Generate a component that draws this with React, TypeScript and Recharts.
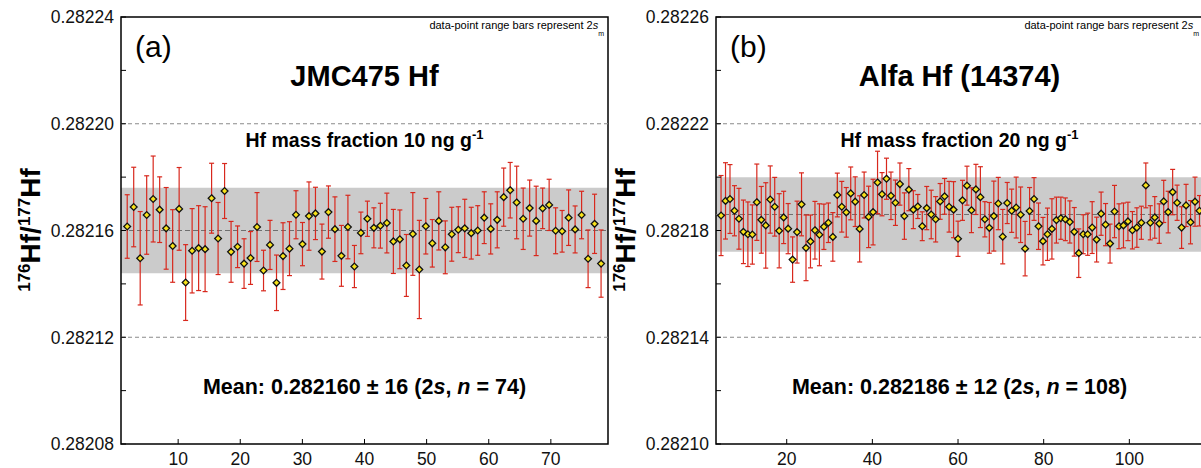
import React from "react";
import { ScatterChart, Scatter, XAxis, YAxis, ErrorBar, ReferenceArea, ReferenceLine } from "recharts";

const FONT = '"Liberation Sans", Arial, Helvetica, sans-serif';

// (a) JMC475 Hf, 10 ng/g — 176Hf/177Hf per analysis and 2s_m (x1e-6)
const ratioA = [
  0.2821615, 0.2821688, 0.2821496, 0.2821658, 0.2821718, 0.2821678, 0.2821608, 0.2821542, 0.2821681, 0.2821405,
  0.2821524, 0.2821534, 0.282153, 0.2821721, 0.282157, 0.2821748, 0.282152, 0.2821539, 0.2821476, 0.2821497,
  0.2821613, 0.282145, 0.2821546, 0.2821404, 0.2821504, 0.2821532, 0.2821659, 0.2821549, 0.2821654, 0.2821664,
  0.2821521, 0.2821669, 0.2821605, 0.2821505, 0.2821613, 0.2821465, 0.2821591, 0.2821644, 0.282161, 0.2821618,
  0.2821628, 0.2821559, 0.2821567, 0.2821469, 0.2821587, 0.2821454, 0.2821616, 0.2821552, 0.2821636, 0.2821537,
  0.2821586, 0.2821603, 0.2821608, 0.282159, 0.28216, 0.2821648, 0.2821606, 0.282164, 0.2821725, 0.2821751,
  0.2821705, 0.2821644, 0.2821684, 0.2821636, 0.2821683, 0.2821696, 0.2821599, 0.2821597, 0.2821648, 0.2821604,
  0.2821658, 0.2821494, 0.2821625, 0.2821476,
];
const err2sA = [
  11.9, 14.9, 17.5, 14.7, 16.1, 12.3, 15.3, 13.6, 15.5, 14.2,
  15.8, 15.9, 15.9, 13.1, 13.5, 10.3, 11.4, 7.8, 9.3, 9.9,
  12.9, 7.6, 9.2, 10.4, 12.5, 10.1, 9.0, 8.1, 12.8, 9.8,
  10.3, 9.8, 12.1, 11.4, 11.9, 7.9, 7.8, 6.6, 7.5, 8.4,
  11.2, 12.0, 11.0, 11.6, 15.5, 18.4, 10.4, 8.9, 10.9, 9.9,
  10.1, 8.6, 10.9, 9.7, 9.3, 9.7, 9.4, 10.5, 10.9, 10.4,
  13.6, 11.5, 10.5, 13.0, 7.6, 9.6, 8.6, 7.8, 10.4, 8.8,
  8.9, 10.8, 11.1, 12.6,
];

// (b) Alfa Hf (14374), 20 ng/g
const ratioB = [
  0.2821856, 0.2821911, 0.2821918, 0.2821874, 0.2821844, 0.2821795, 0.2821786, 0.2821785, 0.2821906, 0.282184,
  0.2821819, 0.2821916, 0.2821889, 0.2821799, 0.2821849, 0.2821807, 0.2821691, 0.2821794, 0.2821898, 0.2821735,
  0.2821759, 0.2821801, 0.2821784, 0.2821814, 0.2821829, 0.2821776, 0.2821933, 0.2821889, 0.2821868, 0.2821939,
  0.2821908, 0.2821806, 0.2821933, 0.2821851, 0.2821869, 0.282198, 0.2821936, 0.2821994, 0.282193, 0.2821904,
  0.2821974, 0.2821854, 0.2821953, 0.2821878, 0.282189, 0.2821816, 0.2821884, 0.282186, 0.2821842, 0.2821909,
  0.2821928, 0.2821889, 0.2821878, 0.2821769, 0.2821913, 0.2821968, 0.2821876, 0.2821954, 0.2821925, 0.2821842,
  0.282181, 0.2821854, 0.2821901, 0.2821777, 0.2821903, 0.2821874, 0.2821886, 0.2821859, 0.2821732, 0.2821873,
  0.2821918, 0.2821816, 0.282176, 0.2821786, 0.2821806, 0.2821839, 0.2821846, 0.2821842, 0.2821832, 0.2821795,
  0.2821715, 0.2821786, 0.2821786, 0.2821811, 0.2821766, 0.2821863, 0.2821822, 0.2821751, 0.2821871, 0.2821816,
  0.2821819, 0.2821834, 0.2821801, 0.2821811, 0.2821829, 0.2821969, 0.2821829, 0.2821849, 0.2821826, 0.2821909,
  0.2821869, 0.2821944, 0.2821904, 0.2821811, 0.2821894, 0.2821831, 0.2821908, 0.2821874,
];
const err2sB = [
  15.0, 14.3, 12.9, 9.4, 11.4, 11.9, 12.1, 11.1, 14.3, 12.5,
  16.0, 12.6, 11.0, 13.9, 9.8, 9.4, 8.5, 11.6, 11.8, 12.3,
  9.9, 10.8, 11.6, 8.5, 7.4, 9.1, 8.2, 9.5, 9.3, 9.9,
  9.3, 12.4, 8.6, 11.5, 12.3, 11.7, 8.1, 7.7, 8.9, 8.5,
  7.9, 8.7, 7.9, 7.1, 4.5, 5.4, 8.1, 9.1, 8.5, 6.7,
  6.7, 9.5, 10.5, 6.6, 7.5, 7.3, 8.4, 9.4, 11.4, 6.6,
  9.5, 13.1, 9.8, 10.2, 7.7, 8.1, 11.4, 10.4, 10.2, 8.8,
  8.0, 8.7, 8.9, 9.8, 11.3, 8.6, 7.9, 8.0, 7.9, 9.1,
  9.1, 7.3, 7.9, 9.7, 8.4, 8.1, 7.9, 7.3, 9.8, 8.4,
  8.4, 7.2, 7.0, 7.4, 6.2, 8.4, 6.4, 7.8, 7.4, 7.9,
  7.8, 8.5, 6.6, 7.8, 7.9, 8.1, 9.2, 5.7,
];

const xTicksA = [10, 20, 30, 40, 50, 60, 70];
const xTicksB = [20, 40, 60, 80, 100];
const yTicksA = [0.28208, 0.2821, 0.28212, 0.28214, 0.28216, 0.28218, 0.2822, 0.28222, 0.28224];
const yLabelsA = [0.28208, 0.28212, 0.28216, 0.2822, 0.28224];
const yTicksB = [0.2821, 0.28212, 0.28214, 0.28216, 0.28218, 0.2822, 0.28222, 0.28224, 0.28226];
const yLabelsB = [0.2821, 0.28214, 0.28218, 0.28222, 0.28226];

const meanA = 0.28216;
const bandA = [0.282144, 0.282176];
const guideA = [0.2822, 0.28212];
const meanB = 0.282186;
const bandB = [0.282172, 0.2822];
const guideB = [0.28222, 0.28214];

const W = 620;
const H = 468;
const AX = 121; // y-axis position inside each chart
const BOTTOM = 444;

function build(ratio: number[], err: number[], x0: number, dx: number) {
  return ratio.map((v, i) => ({ x: x0 + i * dx, y: v, err: err[i] * 1e-6 }));
}

const Diamond = (props: any) => {
  const { cx, cy } = props;
  if (cx == null || cy == null) return null;
  const r = 3.4;
  return (
    <path
      d={`M${cx},${cy - r}L${cx + r},${cy}L${cx},${cy + r}L${cx - r},${cy}Z`}
      fill="#f7e21b"
      stroke="#111"
      strokeWidth={1.3}
    />
  );
};

function makeYTick(labels: number[]) {
  return (props: any) => {
    const { y, payload } = props;
    const major = labels.some((v) => Math.abs(v - payload.value) < 1e-9);
    return (
      <g>
        <line x1={AX} x2={AX + 5} y1={y} y2={y} stroke="#000" strokeWidth={1} />
        {major && (
          <text x={AX - 7} y={y} dy="0.36em" textAnchor="end" fontSize={17.5} fontFamily={FONT} fill="#111">
            {payload.value.toFixed(5)}
          </text>
        )}
      </g>
    );
  };
}

const XTick = (props: any) => {
  const { x, payload } = props;
  return (
    <g>
      <line x1={x} x2={x} y1={BOTTOM} y2={BOTTOM - 5} stroke="#000" strokeWidth={1} />
      <text x={x} y={BOTTOM + 21} textAnchor="middle" fontSize={17.5} fontFamily={FONT} fill="#111">
        {payload.value}
      </text>
    </g>
  );
};

interface PanelProps {
  data: { x: number; y: number; err: number }[];
  xDomain: [number, number];
  yDomain: [number, number];
  xTicks: number[];
  yTicks: number[];
  yLabels: number[];
  mean: number;
  band: number[];
  guides: number[];
}

function Panel({ data, xDomain, yDomain, xTicks, yTicks, yLabels, mean, band, guides }: PanelProps) {
  return (
    <ScatterChart width={W} height={H} margin={{ top: 17, right: W - 608, bottom: 0, left: 60 }}>
      <XAxis
        type="number"
        dataKey="x"
        domain={xDomain}
        ticks={xTicks}
        allowDataOverflow
        height={24}
        axisLine={false}
        tickLine={false}
        tick={<XTick />}
        interval={0}
      />
      <YAxis
        type="number"
        dataKey="y"
        domain={yDomain}
        ticks={yTicks}
        allowDataOverflow
        width={61}
        axisLine={false}
        tickLine={false}
        tick={makeYTick(yLabels)}
        interval={0}
      />
      <ReferenceArea y1={band[0]} y2={band[1]} x1={xDomain[0]} x2={xDomain[1]} fill="#cbcbcb" fillOpacity={1} stroke="none" />
      {guides.map((g) => (
        <ReferenceLine key={g} y={g} stroke="#8a8a8a" strokeDasharray="4 3" strokeWidth={1} />
      ))}
      <ReferenceLine y={mean} stroke="#6f6f6f" strokeDasharray="5 3" strokeWidth={1} />
      <Scatter data={data} shape={<Diamond />} isAnimationActive={false}>
        <ErrorBar dataKey="err" direction="y" width={2.5} stroke="#d8281d" strokeWidth={1.2} isAnimationActive={false} />
      </Scatter>
      <ReferenceArea
        x1={xDomain[0]}
        x2={xDomain[1]}
        y1={yDomain[0]}
        y2={yDomain[1]}
        fill="none"
        stroke="#000"
        strokeWidth={1.5}
        ifOverflow="visible"
      />
    </ScatterChart>
  );
}

function Annotations({ dx, tag, title, fraction, mean, n }: { dx: number; tag: string; title: string; fraction: string; mean: string; n: number }) {
  const cx = 364.5 + dx;
  return (
    <g fontFamily={FONT} fill="#000">
      <text x={135 + dx} y={57} fontSize={30}>{tag}</text>
      <text x={604 + dx} y={29} fontSize={11} textAnchor="end">
        data-point range bars represent 2<tspan fontStyle="italic">s</tspan>
        <tspan fontSize={7} dy={7}>m</tspan>
      </text>
      <text x={cx} y={85.5} fontSize={29} fontWeight="bold" textAnchor="middle">{title}</text>
      <text x={cx} y={147} fontSize={19.5} fontWeight="bold" textAnchor="middle">
        Hf mass fraction {fraction} ng g<tspan fontSize={13} dy={-8}>-1</tspan>
      </text>
      <text x={cx} y={394} fontSize={21.5} fontWeight="bold" textAnchor="middle">
        Mean: {mean} (2<tspan fontStyle="italic">s</tspan>, <tspan fontStyle="italic">n</tspan> = {n})
      </text>
      <text x={40 + dx} y={230} transform={`rotate(-90 ${40 + dx} 230)`} textAnchor="middle" fontSize={28} fontWeight="bold">
        <tspan fontSize={17} dy={-10}>176</tspan>
        <tspan dy={10}>Hf/</tspan>
        <tspan fontSize={17} dy={-10}>177</tspan>
        <tspan dy={10}>Hf</tspan>
      </text>
    </g>
  );
}

export default function App() {
  const dataA = build(ratioA, err2sA, 1.8, 1.045);
  const dataB = build(ratioB, err2sB, 4.67, 1.044);
  return (
    <div style={{ position: "fixed", left: 0, top: 0, width: 1201, height: 468, overflow: "hidden", background: "#fff" }}>
      <div style={{ position: "absolute", left: 0, top: 0 }}>
        <Panel
          data={dataA}
          xDomain={[0.8, 79.2]}
          yDomain={[0.28208, 0.28224]}
          xTicks={xTicksA}
          yTicks={yTicksA}
          yLabels={yLabelsA}
          mean={meanA}
          band={bandA}
          guides={guideA}
        />
      </div>
      <div style={{ position: "absolute", left: 595, top: 0 }}>
        <Panel
          data={dataB}
          xDomain={[3.49, 117.2]}
          yDomain={[0.2821, 0.28226]}
          xTicks={xTicksB}
          yTicks={yTicksB}
          yLabels={yLabelsB}
          mean={meanB}
          band={bandB}
          guides={guideB}
        />
      </div>
      <svg width={1201} height={468} style={{ position: "absolute", left: 0, top: 0, pointerEvents: "none" }}>
        <Annotations dx={0} tag="(a)" title="JMC475 Hf" fraction="10" mean="0.282160 ± 16" n={74} />
        <Annotations dx={595} tag="(b)" title="Alfa Hf (14374)" fraction="20" mean="0.282186 ± 12" n={108} />
      </svg>
    </div>
  );
}
